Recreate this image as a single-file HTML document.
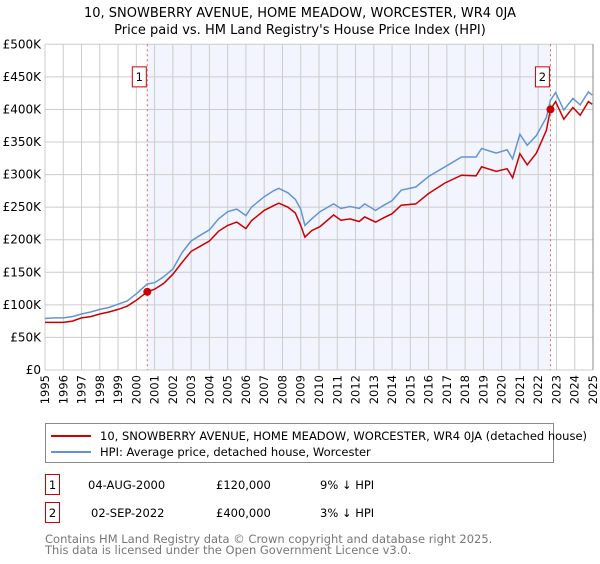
<!DOCTYPE html>
<html><head><meta charset="utf-8"><style>
body{margin:0;background:#fff;width:600px;height:560px;overflow:hidden;font-family:"DejaVu Sans","Liberation Sans",sans-serif;}
svg text{font-family:"DejaVu Sans","Liberation Sans",sans-serif;}
</style></head><body>
<svg id="c" width="600" height="560">
<text x="300" y="17" text-anchor="middle" font-size="13">10, SNOWBERRY AVENUE, HOME MEADOW, WORCESTER, WR4 0JA</text>
<text x="300" y="34" text-anchor="middle" font-size="13">Price paid vs. HM Land Registry's House Price Index (HPI)</text>
<g id="plot"></g>
<g>
<rect x="45.5" y="423.5" width="508" height="39" fill="#fff" stroke="#888"/>
<line x1="51" y1="436" x2="91" y2="436" stroke="#cc0000" stroke-width="2"/>
<text x="100" y="440" font-size="11.5">10, SNOWBERRY AVENUE, HOME MEADOW, WORCESTER, WR4 0JA (detached house)</text>
<line x1="51" y1="452" x2="91" y2="452" stroke="#6395d4" stroke-width="2"/>
<text x="100" y="456" font-size="11.5">HPI: Average price, detached house, Worcester</text>
</g>
<g font-size="11.5">
<rect x="45.5" y="474.5" width="14" height="20" fill="#fff" stroke="#cc0000"/>
<text x="52.5" y="489" text-anchor="middle">1</text>
<text x="88" y="489">04-AUG-2000</text>
<text x="216" y="489">£120,000</text>
<text x="320" y="489">9% ↓ HPI</text>
<rect x="45.5" y="502.5" width="14" height="20" fill="#fff" stroke="#cc0000"/>
<text x="52.5" y="517" text-anchor="middle">2</text>
<text x="91" y="517">02-SEP-2022</text>
<text x="216" y="517">£400,000</text>
<text x="320" y="517">3% ↓ HPI</text>
</g>
<text x="45" y="543" font-size="11.5" fill="#777">Contains HM Land Registry data © Crown copyright and database right 2025.</text>
<text x="45" y="554" font-size="11.5" fill="#777">This data is licensed under the Open Government Licence v3.0.</text>
</svg>
<script>
const hpiYears=[1995,1995.5,1996,1996.5,1997,1997.5,1998,1998.5,1999,1999.5,2000,2000.6,2001,2001.5,2002,2002.5,2003,2003.5,2004,2004.5,2005,2005.5,2006,2006.3,2007,2007.5,2007.8,2008.3,2008.7,2009.0,2009.23,2009.6,2010.05,2010.8,2011.2,2011.7,2012.2,2012.5,2013.1,2013.5,2014.0,2014.5,2015.3,2016.0,2016.9,2017.8,2018.6,2018.9,2019.7,2020.3,2020.6,2021.0,2021.4,2021.9,2022.45,2022.67,2022.95,2023.4,2023.9,2024.3,2024.75,2024.95];
const hpiValues=[79,80,80,82,86,89,93,96,101,106,117,132,134,143,155,180,198,207,215,232,243,247,237,250,266,275,279,272,262,247,222,232,243,255,248,251,248,255,245,252,260,276,281,297,312,327,327,340,333,338,324,362,345,360,388,414,426,399,417,407,427,422];
const redValues=[73,73,73,75,80,82,86,89,93,98,107,120,124,133,147,165,182,190,198,213,222,227,217,229,245,252,256,250,241,222,204,214,220,238,230,232,228,235,227,233,240,253,255,271,287,299,298,312,305,309,295,332,315,333,368,400,412,385,403,391,412,408];
const sales=[{year:2000.6,value:120,label:"1"},{year:2022.67,value:400,label:"2"}];
const yTicks=[0,50,100,150,200,250,300,350,400,450,500];
const yTickLabels=["£0","£50K","£100K","£150K","£200K","£250K","£300K","£350K","£400K","£450K","£500K"];
const xTicks=[1995,1996,1997,1998,1999,2000,2001,2002,2003,2004,2005,2006,2007,2008,2009,2010,2011,2012,2013,2014,2015,2016,2017,2018,2019,2020,2021,2022,2023,2024,2025];

const L=45,R=593,T=44.3,B=370;
const xs=y=>L+(y-1995)/30*(R-L);
const ys=v=>B-v/500*(B-T);
const NS="http://www.w3.org/2000/svg";
const g=document.getElementById('plot');
function mk(t,a,p){const e=document.createElementNS(NS,t);for(const k in a)e.setAttribute(k,a[k]);(p||g).appendChild(e);return e;}

const bg=mk('rect',{x:L,y:T,width:R-L,height:B-T,fill:'#fff'});


const sh=mk('rect',{x:xs(sales[0].year),y:T,width:xs(sales[1].year)-xs(sales[0].year),height:B-T,fill:'#f2f5fd'});


xTicks.forEach(t=>{
  const l=mk('line',{x1:xs(t),x2:xs(t),y1:T,y2:B,stroke:'#cccccc','stroke-width':1});
  
  
  const tx=mk('text',{x:0,y:0,'font-size':11.5,'text-anchor':'end',transform:`translate(${xs(t)+4},${B+5}) rotate(-90)`});
  tx.textContent=t;
  
  
});
yTicks.forEach((t,i)=>{
  const l=mk('line',{x1:L,x2:R,y1:ys(t),y2:ys(t),stroke:'#cccccc','stroke-width':1});
  
  
  const tx=mk('text',{x:L-4,y:ys(t)+4,'font-size':12,'text-anchor':'end'});
  tx.textContent=yTickLabels[i];
  
  
});
const rb=mk('line',{x1:R,x2:R,y1:T,y2:B,stroke:'#888','stroke-width':1});


sales.forEach(s=>{
  const v=mk('line',{x1:xs(s.year),x2:xs(s.year),y1:T,y2:B,stroke:'#e06060','stroke-width':1,'stroke-dasharray':'2,3'});
  
  
  const bx=mk('rect',{x:xs(s.year)-15,y:ys(450)-10,width:14,height:20,fill:'#fff',stroke:'#cc0000'});
  
  
  const tx=mk('text',{x:xs(s.year)-8,y:ys(450)+4,'font-size':11.5,'text-anchor':'middle'});
  tx.textContent=s.label;
  
  
});
const pts=a=>hpiYears.map((y,i)=>xs(y).toFixed(1)+','+ys(a[i]).toFixed(1)).join(' ');
const hl=mk('polyline',{points:pts(hpiValues),fill:'none',stroke:'#6395d4','stroke-width':1.5});


const rl=mk('polyline',{points:pts(redValues),fill:'none',stroke:'#cc0000','stroke-width':1.5});


sales.forEach(s=>{
  const c=mk('circle',{cx:xs(s.year),cy:ys(s.value),r:4,fill:'#cc0000'});
  
  
});
</script>
</body></html>
